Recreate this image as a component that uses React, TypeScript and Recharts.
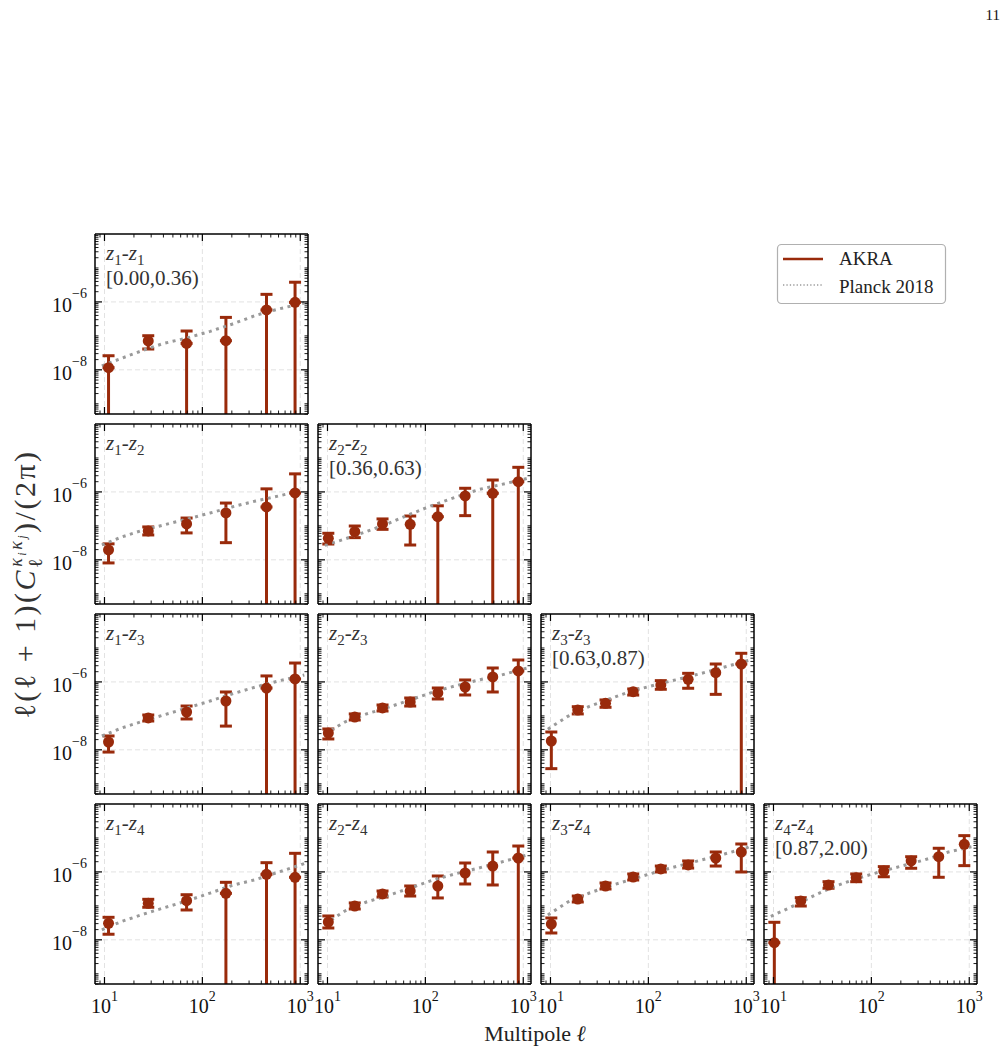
import { ScatterChart, Scatter, XAxis, YAxis, ErrorBar, ReferenceLine } from "recharts";

const RED = "#992a0b";
const GRAY = "#9a9a9a";
const GRID = "#e2e2e2";
const FONT = "'Liberation Serif', 'Times New Roman', serif";

const X_DOMAIN = [8, 1200];
const Y_DOMAIN = [5e-10, 1e-4];
const X_TICKS = [9, 10, 20, 30, 40, 50, 60, 70, 80, 90, 100, 200, 300, 400, 500, 600, 700, 800, 900, 1000];
const Y_TICKS = [
  5e-10, 6e-10, 7e-10, 8e-10, 9e-10,
  1e-9, 2e-9, 3e-9, 4e-9, 5e-9, 6e-9, 7e-9, 8e-9, 9e-9,
  1e-8, 2e-8, 3e-8, 4e-8, 5e-8, 6e-8, 7e-8, 8e-8, 9e-8,
  1e-7, 2e-7, 3e-7, 4e-7, 5e-7, 6e-7, 7e-7, 8e-7, 9e-7,
  1e-6, 2e-6, 3e-6, 4e-6, 5e-6, 6e-6, 7e-6, 8e-6, 9e-6,
  1e-5, 2e-5, 3e-5, 4e-5, 5e-5, 6e-5, 7e-5, 8e-5, 9e-5,
];
const X_MAJOR = [10, 100, 1000];
const Y_MAJOR = [1e-8, 1e-6];
const X_GRID = [10, 100, 1000];
const Y_GRID = [1e-8, 1e-6];

// bin centres
const ELL6 = [11, 28, 69, 174, 452, 885];
const ELL8 = [10.2, 19, 36.5, 70, 134, 255, 488, 890];
const ELL_PLANCK = [9.4, 15, 25, 40, 70, 120, 200, 350, 600, 1000, 1100];

// null lower bound = error bar runs down past the bottom of the panel

const V11 = [1.16e-8, 7.07e-8, 6.0e-8, 7.2e-8, 5.8e-7, 9.7e-7];
const LO11 = [null, 4.1e-8, null, null, null, null];
const HI11 = [2.6e-8, 1.01e-7, 1.39e-7, 3.5e-7, 1.67e-6, 3.8e-6];
const P11 = [1.3e-8, 2.2e-8, 3.8e-8, 5.97e-8, 8.7e-8, 1.36e-7, 2.2e-7, 4.0e-7, 6.2e-7, 8.7e-7, 9.3e-7];

const V12 = [1.95e-8, 7.1e-8, 1.14e-7, 2.4e-7, 3.6e-7, 9.3e-7];
const LO12 = [8.1e-9, 5.4e-8, 6.2e-8, 3.2e-8, null, null];
const HI12 = [2.95e-8, 9.3e-8, 1.7e-7, 4.7e-7, 1.23e-6, 3.4e-6];
const P12 = [2.74e-8, 4.71e-8, 7.56e-8, 1.06e-7, 1.59e-7, 2.39e-7, 3.6e-7, 5.4e-7, 7.58e-7, 1.07e-6, 1.14e-6];

const V13 = [1.7e-8, 8.7e-8, 1.3e-7, 2.74e-7, 6.6e-7, 1.22e-6];
const LO13 = [8.6e-9, 7.06e-8, 8.1e-8, 5.0e-8, null, null];
const HI13 = [2.56e-8, 1.06e-7, 1.95e-7, 5.05e-7, 1.5e-6, 3.6e-6];
const P13 = [2.56e-8, 4.4e-8, 7.06e-8, 1.06e-7, 1.71e-7, 2.74e-7, 4.41e-7, 7.08e-7, 1.07e-6, 1.49e-6, 1.6e-6];

const V14 = [3.07e-8, 1.19e-7, 1.42e-7, 2.34e-7, 8.5e-7, 6.95e-7];
const LO14 = [1.46e-8, 9.1e-8, 7.57e-8, null, null, null];
const HI14 = [4.6e-8, 1.56e-7, 2.13e-7, 4.94e-7, 1.87e-6, 3.53e-6];
const P14 = [1.96e-8, 3.49e-8, 5.69e-8, 8.67e-8, 1.41e-7, 2.38e-7, 3.98e-7, 5.94e-7, 9.88e-7, 1.6e-6, 1.77e-6];

const V22 = [4.3e-8, 6.75e-8, 1.14e-7, 1.11e-7, 1.86e-7, 7.6e-7, 9.1e-7, 2.0e-6];
const LO22 = [2.92e-8, 4.5e-8, 7.9e-8, 2.73e-8, null, 2.0e-7, null, null];
const HI22 = [6.05e-8, 9.9e-8, 1.6e-7, 1.95e-7, 3.9e-7, 1.28e-6, 2.24e-6, 5.3e-6];
const P22 = [2.66e-8, 4.1e-8, 6.8e-8, 1.12e-7, 2.2e-7, 4.1e-7, 6.9e-7, 1.17e-6, 1.66e-6, 2.34e-6, 2.5e-6];

const V23 = [3.13e-8, 9.26e-8, 1.71e-7, 2.56e-7, 4.72e-7, 7.08e-7, 1.4e-6, 2.1e-6];
const LO23 = [2.09e-8, 7.56e-8, 1.39e-7, 1.95e-7, 3.14e-7, 4.12e-7, 5.05e-7, null];
const HI23 = [4.11e-8, 1.14e-7, 2.09e-7, 3.36e-7, 6.62e-7, 1.14e-6, 2.57e-6, 4.42e-6];
const P23 = [2.92e-8, 6.6e-8, 1.14e-7, 1.71e-7, 2.94e-7, 5.05e-7, 7.58e-7, 1.14e-6, 1.6e-6, 2.4e-6, 2.57e-6];

const V24 = [3.35e-8, 9.91e-8, 2.24e-7, 2.74e-7, 3.85e-7, 9.29e-7, 1.49e-6, 2.57e-6];
const LO24 = [2.23e-8, 8.09e-8, 1.82e-7, 1.95e-7, 1.71e-7, 4.41e-7, 4.12e-7, null];
const HI24 = [5.04e-8, 1.22e-7, 2.74e-7, 3.85e-7, 7.58e-7, 1.83e-6, 3.86e-6, 5.79e-6];
const P24 = [2.92e-8, 7.06e-8, 1.3e-7, 1.95e-7, 3.36e-7, 5.78e-7, 8.69e-7, 1.3e-6, 1.96e-6, 2.94e-6, 3.15e-6];

const V33 = [1.82e-8, 1.49e-7, 2.34e-7, 5.15e-7, 8.1e-7, 1.19e-6, 1.87e-6, 3.37e-6];
const LO33 = [2.79e-9, 1.14e-7, 1.79e-7, 4.1e-7, 6.07e-7, 6.5e-7, 4.3e-7, null];
const HI33 = [3.35e-8, 1.86e-7, 2.94e-7, 6.2e-7, 1.09e-6, 1.79e-6, 3.37e-6, 6.97e-6];
const P33 = [4.06e-8, 9.66e-8, 1.91e-7, 3.14e-7, 5.55e-7, 8.28e-7, 1.19e-6, 1.79e-6, 2.75e-6, 4.13e-6, 4.42e-6];

const V34 = [2.92e-8, 1.59e-7, 3.85e-7, 7.08e-7, 1.22e-6, 1.6e-6, 2.57e-6, 3.86e-6];
const LO34 = [1.59e-8, 1.3e-7, 3.14e-7, 5.78e-7, 9.95e-7, 1.3e-6, 1.49e-6, 9.95e-7];
const HI34 = [4.4e-8, 1.95e-7, 4.72e-7, 8.69e-7, 1.49e-6, 2.1e-6, 3.86e-6, 6.64e-6];
const P34 = [5.39e-8, 1.3e-7, 2.39e-7, 3.85e-7, 6.19e-7, 9.95e-7, 1.49e-6, 2.25e-6, 3.37e-6, 5.06e-6, 5.79e-6];

const V44 = [8.24e-9, 1.39e-7, 4.12e-7, 6.76e-7, 1.06e-6, 2.1e-6, 2.8e-6, 6.5e-6];
const LO44 = [null, 9.9e-8, 3.3e-7, 5.15e-7, 7.2e-7, 1.28e-6, 6.95e-7, 1.53e-6];
const HI44 = [3.28e-8, 1.74e-7, 5.15e-7, 8.7e-7, 1.43e-6, 2.8e-6, 4.97e-6, 1.17e-5];
const P44 = [4.93e-8, 9.14e-8, 1.9e-7, 3.55e-7, 6.3e-7, 9.88e-7, 1.47e-6, 2.26e-6, 3.79e-6, 5.35e-6, 5.64e-6];

const BIN_RANGES = ["[0.00,0.36)", "[0.36,0.63)", "[0.63,0.87)", "[0.87,2.00)"];

const PANELS = [
  { i: 1, j: 1, ells: ELL6, v: V11, lo: LO11, hi: HI11, p: P11 },
  { i: 1, j: 2, ells: ELL6, v: V12, lo: LO12, hi: HI12, p: P12 },
  { i: 1, j: 3, ells: ELL6, v: V13, lo: LO13, hi: HI13, p: P13 },
  { i: 1, j: 4, ells: ELL6, v: V14, lo: LO14, hi: HI14, p: P14 },
  { i: 2, j: 2, ells: ELL8, v: V22, lo: LO22, hi: HI22, p: P22 },
  { i: 2, j: 3, ells: ELL8, v: V23, lo: LO23, hi: HI23, p: P23 },
  { i: 2, j: 4, ells: ELL8, v: V24, lo: LO24, hi: HI24, p: P24 },
  { i: 3, j: 3, ells: ELL8, v: V33, lo: LO33, hi: HI33, p: P33 },
  { i: 3, j: 4, ells: ELL8, v: V34, lo: LO34, hi: HI34, p: P34 },
  { i: 4, j: 4, ells: ELL8, v: V44, lo: LO44, hi: HI44, p: P44 },
];

// layout
const PW = 213, PH = 180;
const X0 = 95, Y0 = 234, DX = 223, DY = 190;
const ML = 60, MR = 12, MT = 10, MB = 40;

const near = (a: number, list: number[]) => list.some((m) => Math.abs(a - m) < 1e-6 * m);

function makeTick(side: string, label: boolean) {
  return (props: any) => {
    const { x, y, payload } = props;
    const val = payload.value;
    const isX = side === "bottom" || side === "top";
    const major = isX ? near(val, X_MAJOR) : near(val, Y_MAJOR);
    const len = major ? 7 : 3.5;
    const e = Math.round(Math.log10(val));
    const l = { x1: x, y1: y, x2: x, y2: y };
    if (side === "bottom") l.y2 = y - len;
    if (side === "top") l.y2 = y + len;
    if (side === "left") l.x2 = x + len;
    if (side === "right") l.x2 = x - len;
    return (
      <g>
        <line {...l} stroke="#000" strokeWidth={major ? 1.2 : 0.9} />
        {label && major && isX && (
          <text x={x} y={y + 29} textAnchor="middle" fontSize={20} fontFamily={FONT} fill="#111">
            10<tspan dy={-12} fontSize={14}>{e}</tspan>
          </text>
        )}
        {label && major && !isX && (
          <text x={x - 8} y={y + 10} textAnchor="end" fontSize={20} fontFamily={FONT} fill="#111">
            10<tspan dy={-14} fontSize={14}>{"\u2212" + Math.abs(e)}</tspan>
          </text>
        )}
      </g>
    );
  };
}

function Panel({ panel }: { panel: any }) {
  const row = panel.j - 1, col = panel.i - 1;
  const yMin = Y_DOMAIN[0];
  const points = panel.ells.map((ell: number, k: number) => {
    const v = panel.v[k], lo = panel.lo[k], hi = panel.hi[k];
    return {
      ell,
      v,
      // capped part of the bar
      err: [lo == null ? 0 : v - lo, hi - v],
      // uncapped part that runs down to the frame
      tail: [lo == null ? v - yMin : 0, 0],
    };
  });
  const planck = ELL_PLANCK.map((ell, k) => ({ ell, v: panel.p[k] }));
  const axisLine = { stroke: "#000", strokeWidth: 1.5 };
  return (
    <div style={{ position: "absolute", left: X0 + DX * col - ML, top: Y0 + DY * row - MT }}>
      <ScatterChart width={ML + PW + MR} height={MT + PH + MB}
        margin={{ top: MT - 1, right: MR - 1, bottom: MB - 1, left: ML - 1 }}>
        <XAxis dataKey="ell" type="number" scale="log" domain={X_DOMAIN} allowDataOverflow ticks={X_TICKS}
          interval={0} height={1} tickSize={0} tickMargin={0} axisLine={axisLine} tickLine={false}
          tick={makeTick("bottom", row === 3)} />
        <XAxis xAxisId="top" orientation="top" dataKey="ell" type="number" scale="log" domain={X_DOMAIN}
          allowDataOverflow ticks={X_TICKS} interval={0} height={1} tickSize={0} tickMargin={0}
          axisLine={axisLine} tickLine={false} tick={makeTick("top", false)} />
        <YAxis dataKey="v" type="number" scale="log" domain={Y_DOMAIN} allowDataOverflow ticks={Y_TICKS}
          interval={0} width={1} tickSize={0} tickMargin={0} axisLine={axisLine} tickLine={false}
          tick={makeTick("left", col === 0)} />
        <YAxis yAxisId="right" orientation="right" dataKey="v" type="number" scale="log" domain={Y_DOMAIN}
          allowDataOverflow ticks={Y_TICKS} interval={0} width={1} tickSize={0} tickMargin={0}
          axisLine={axisLine} tickLine={false} tick={makeTick("right", false)} />
        {X_GRID.map((g) => (
          <ReferenceLine key={"x" + g} x={g} stroke={GRID} strokeWidth={1} strokeDasharray="5 3" />
        ))}
        {Y_GRID.map((g) => (
          <ReferenceLine key={"y" + g} y={g} stroke={GRID} strokeWidth={1} strokeDasharray="5 3" />
        ))}
        <Scatter data={planck} isAnimationActive={false} shape={() => <g />}
          line={{ stroke: GRAY, strokeWidth: 3, strokeDasharray: "3 4.5" }} />
        <Scatter data={points} isAnimationActive={false} fill={RED}
          shape={(p: any) => <circle cx={p.cx} cy={p.cy} r={5.5} fill={RED} />}>
          <ErrorBar dataKey="tail" direction="y" width={0} stroke={RED} strokeWidth={3} />
          <ErrorBar dataKey="err" direction="y" width={6} stroke={RED} strokeWidth={3} />
        </Scatter>
      </ScatterChart>
    </div>
  );
}

const ital = { fontStyle: "italic" };

function PanelLabel({ panel }: { panel: any }) {
  const row = panel.j - 1, col = panel.i - 1;
  const x = X0 + DX * col + 11, y = Y0 + DY * row + 26;
  return (
    <g fill="#333" fontFamily={FONT}>
      <text x={x} y={y} fontSize={21}>
        <tspan style={ital}>z</tspan>
        <tspan fontSize={15} dy={5}>{panel.i}</tspan>
        <tspan dy={-5}>-</tspan>
        <tspan style={ital}>z</tspan>
        <tspan fontSize={15} dy={5}>{panel.j}</tspan>
      </text>
      {panel.i === panel.j && (
        <text x={x} y={y + 25} fontSize={21}>{BIN_RANGES[panel.i - 1]}</text>
      )}
    </g>
  );
}

export default function App() {
  return (
    <div style={{ position: "absolute", left: 0, top: 0, width: 1008, height: 1052, background: "#fff", fontFamily: FONT }}>
      {PANELS.map((p) => (
        <Panel key={`${p.i}${p.j}`} panel={p} />
      ))}
      <svg width={1008} height={1052} style={{ position: "absolute", left: 0, top: 0, pointerEvents: "none" }}>
        <text x={1000} y={20} textAnchor="end" fontSize={15} fontFamily={FONT} fill="#111">11</text>
        {PANELS.map((p) => (
          <PanelLabel key={`l${p.i}${p.j}`} panel={p} />
        ))}
        <text x={535} y={1041} textAnchor="middle" fontSize={22} fontFamily={FONT} fill="#222">
          Multipole <tspan style={ital}>ℓ</tspan>
        </text>
        <text transform="translate(35,584) rotate(-90)" textAnchor="middle" fontSize={30} fontFamily={FONT}
          fill="#333" letterSpacing={2.5}>
          ℓ(ℓ + 1)(<tspan style={ital}>C</tspan>
          <tspan fontSize={20} dy={7}>ℓ</tspan>
          <tspan fontSize={18} dx={-11} dy={-20} style={ital}>κ</tspan>
          <tspan fontSize={12} dy={4} style={ital}>i</tspan>
          <tspan fontSize={18} dy={-4} style={ital}>κ</tspan>
          <tspan fontSize={12} dy={4} style={ital}>j</tspan>
          <tspan fontSize={30} dy={9}>)/(2π)</tspan>
        </text>
        <g fontFamily={FONT}>
          <rect x={777.5} y={244.5} width={168} height={59} rx={4} fill="#fff" stroke="#b0b0b0" strokeWidth={1.2} />
          <line x1={783} x2={823} y1={259} y2={259} stroke={RED} strokeWidth={2.6} />
          <text x={839} y={265} fontSize={19} fill="#222">AKRA</text>
          <line x1={783} x2={823} y1={285} y2={285} stroke={GRAY} strokeWidth={1.3} strokeDasharray="1.3 2.1" />
          <text x={839} y={293} fontSize={19} fill="#222">Planck 2018</text>
        </g>
      </svg>
    </div>
  );
}
